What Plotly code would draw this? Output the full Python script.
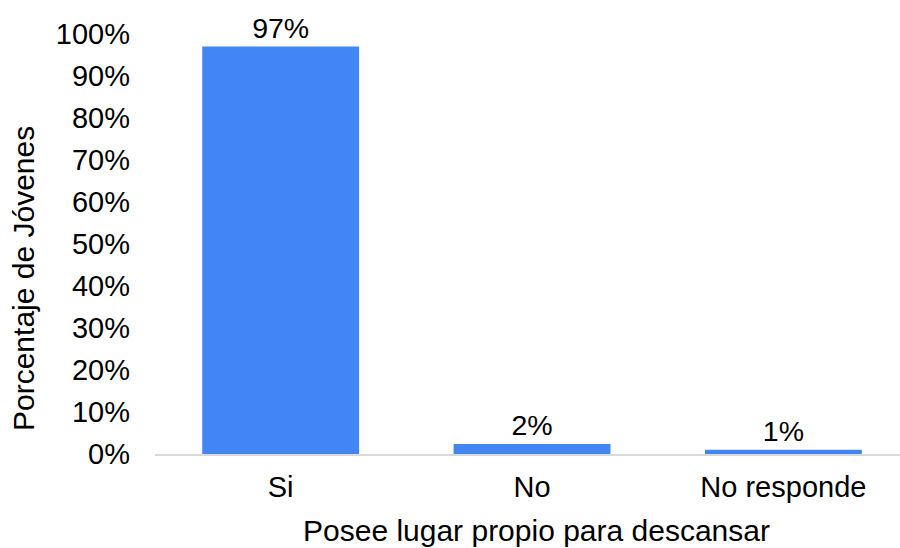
import plotly.graph_objects as go

# Respuestas a "Posee lugar propio para descansar"
categorias = ["Si", "No", "No responde"]
porcentajes = [97.0, 2.4, 1.0]
ticks_y = [0, 10, 20, 30, 40, 50, 60, 70, 80, 90, 100]
etiquetas_y = [f"{v}%" for v in ticks_y]

FUENTE = "Liberation Sans, Arial, sans-serif"
TAM_TICK = 29
TAM_TITULO = 30
TAM_VALOR = 28.5

fig = go.Figure(
    go.Bar(
        x=categorias,
        y=porcentajes,
        marker=dict(color="#4285F4", line=dict(width=0)),
        texttemplate="%{y:.0f}%",
        textposition="outside",
        textfont=dict(family=FUENTE, size=TAM_VALOR, color="#000000"),
        cliponaxis=False,
    )
)

fig.update_layout(
    width=900,
    height=548,
    margin=dict(l=155, r=0, t=34, b=94),
    paper_bgcolor="white",
    plot_bgcolor="white",
    bargap=0.376,
    showlegend=False,
    font=dict(family=FUENTE, size=TAM_TICK, color="#000000"),
    xaxis=dict(
        range=[-0.5, 2.464],
        showline=True,
        linecolor="#d9d9d9",
        linewidth=2,
        ticks="",
        showgrid=False,
        tickfont=dict(family=FUENTE, size=TAM_TICK, color="#000000"),
        ticklabelstandoff=6,
    ),
    yaxis=dict(
        range=[0, 100],
        tickmode="array",
        tickvals=ticks_y,
        ticktext=etiquetas_y,
        showgrid=False,
        zeroline=False,
        showline=False,
        ticks="",
        tickfont=dict(family=FUENTE, size=TAM_TICK, color="#000000"),
        ticklabelstandoff=24,
    ),
    annotations=[
        dict(
            text="Porcentaje de Jóvenes",
            xref="paper", yref="paper",
            x=-155 / 745 + 23 / 745, y=(454 - 279) / 420,
            xanchor="center", yanchor="middle",
            textangle=-90, showarrow=False,
            font=dict(family=FUENTE, size=TAM_TITULO, color="#000000"),
        ),
        dict(
            text="Posee lugar propio para descansar",
            xref="paper", yref="paper",
            x=(536 - 155) / 745, y=-(530 - 454) / 420,
            xanchor="center", yanchor="middle",
            showarrow=False,
            font=dict(family=FUENTE, size=TAM_TITULO, color="#000000"),
        ),
    ],
)

fig.write_html("out.html")
